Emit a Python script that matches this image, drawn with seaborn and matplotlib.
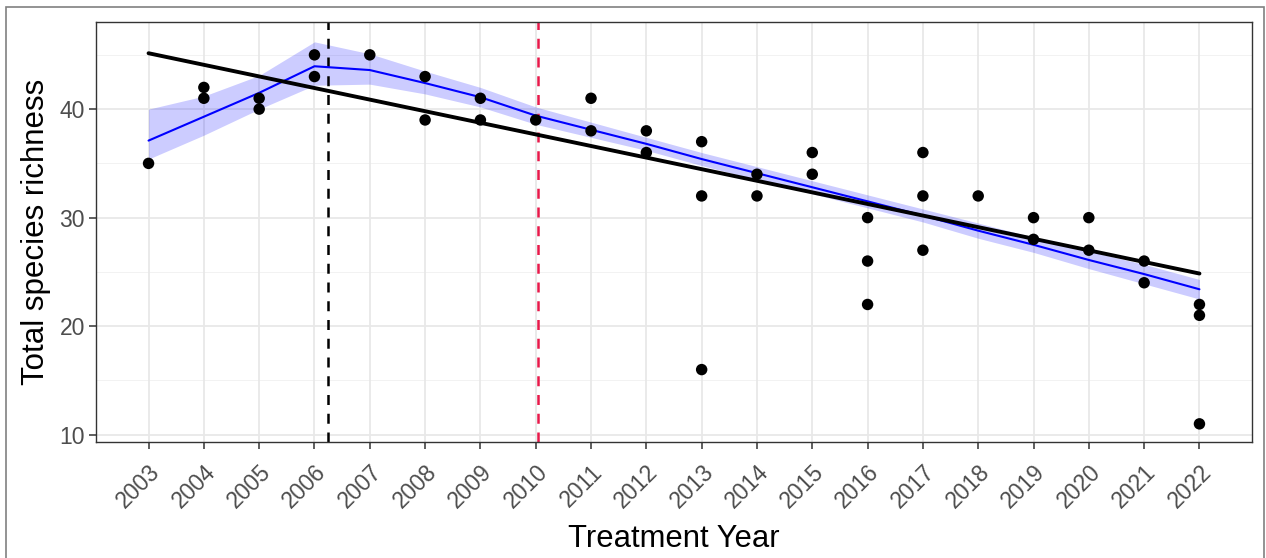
import numpy as np
import pandas as pd
import matplotlib
matplotlib.use("Agg")
import matplotlib.pyplot as plt
from matplotlib.patches import Rectangle
import seaborn as sns

# Observed richness per plot and year
point_years = [2003, 2004, 2004, 2005, 2005, 2006, 2006, 2007, 2008, 2008,
               2009, 2009, 2010, 2011, 2011, 2012, 2012, 2013, 2013, 2013,
               2014, 2014, 2015, 2015, 2016, 2016, 2016, 2017, 2017, 2017,
               2018, 2019, 2019, 2020, 2020, 2021, 2021, 2022, 2022, 2022]
point_richness = [35, 42, 41, 41, 40, 45, 43, 45, 43, 39,
                  41, 39, 39, 41, 38, 38, 36, 37, 32, 16,
                  34, 32, 36, 34, 30, 26, 22, 36, 32, 27,
                  32, 30, 28, 30, 27, 26, 24, 22, 21, 11]

# Smoothed trend (loess) with its confidence band, one value per year
smooth_years = [2003, 2004, 2005, 2006, 2007, 2008, 2009, 2010, 2011, 2012,
                2013, 2014, 2015, 2016, 2017, 2018, 2019, 2020, 2021, 2022]
smooth_fit = [37.1, 39.3, 41.5, 43.95, 43.6, 42.4, 41.1, 39.4, 38.1, 36.8,
              35.4, 34.1, 32.8, 31.5, 30.2, 28.8, 27.5, 26.1, 24.8, 23.4]
smooth_lower = [35.4, 37.6, 40.0, 42.2, 42.3, 41.4, 40.2, 38.6, 37.4, 36.2,
                34.8, 33.5, 32.2, 30.9, 29.6, 28.1, 26.8, 25.3, 23.9, 22.5]
smooth_upper = [40.0, 41.2, 43.1, 46.2, 45.1, 43.5, 42.0, 40.2, 38.8, 37.4,
                36.0, 34.7, 33.4, 32.1, 30.8, 29.5, 28.2, 26.9, 25.7, 24.3]

# Fitted linear trend, start and end of the study period
trend_years = [2003, 2022]
trend_richness = [45.15, 24.85]

# Event markers on the time axis
event_black = 2006.25
event_red = 2010.04

year_ticks = smooth_years
year_labels = [str(y) for y in year_ticks]
y_ticks = [10, 20, 30, 40]
y_minor = [15, 25, 35, 45]

sns.set_style("white")
plt.rcParams["font.family"] = ["Liberation Sans", "DejaVu Sans"]

df = pd.DataFrame({"year": point_years, "richness": point_richness})
trend = pd.DataFrame({"year": trend_years, "richness": trend_richness})

fig = plt.figure(figsize=(12.66, 5.58), dpi=100)
ax = fig.add_axes([96 / 1266, 1 - 442.3 / 558, (1252 - 96) / 1266, (442.3 - 22.3) / 558])

# grid in the style of theme_bw
for y in y_minor:
    ax.axhline(y, color="#F2F2F2", lw=0.7, zorder=0)
for y in y_ticks:
    ax.axhline(y, color="#E8E8E8", lw=1.3, zorder=0)
for x in year_ticks:
    ax.axvline(x, color="#E8E8E8", lw=1.3, zorder=0)

ax.fill_between(smooth_years, smooth_lower, smooth_upper, color="blue",
                alpha=0.2, lw=0, zorder=1)
ax.plot(smooth_years, smooth_fit, color="blue", lw=1.5, zorder=3)

sns.lineplot(data=trend, x="year", y="richness", color="black", lw=2.8,
             zorder=4, ax=ax)

sns.scatterplot(data=df, x="year", y="richness", color="black", s=68,
                edgecolor="none", zorder=5, ax=ax)

ax.axvline(event_black, color="black", lw=1.8, ls=(0, (4, 3.5)), zorder=2)
ax.axvline(event_red, color="#e8194a", lw=1.8, ls=(0, (4, 3.5)), zorder=2)

ax.set_xlim(2002.05, 2022.95)
ax.set_ylim(9.3, 48.0)
ax.set_xticks(year_ticks)
ax.set_xticklabels(year_labels, rotation=45, ha="right", va="top",
                   rotation_mode="anchor")
ax.set_yticks(y_ticks)
ax.set_yticklabels([str(v) for v in y_ticks])
ax.tick_params(axis="both", which="major", direction="out", length=5, width=1.1,
               color="#333333", labelcolor="#4D4D4D", labelsize=16.5, pad=3,
               bottom=True, left=True)
ax.tick_params(axis="x", pad=8)
for sp in ax.spines.values():
    sp.set_color("#333333")
    sp.set_linewidth(1.0)

ax.set_xlabel("Treatment Year", fontsize=22.3, color="black", labelpad=8.5)
ax.set_ylabel("Total species richness", fontsize=22.5, color="black", labelpad=6)
ax.grid(False)

# outer frame of the figure
fig.patches.append(Rectangle((6 / 1266, -0.05), (1264 - 6) / 1266, 1 - 7 / 558 + 0.05,
                             transform=fig.transFigure, fill=False,
                             edgecolor="#808080", lw=1.2))

fig.savefig("out.png", dpi=100)
